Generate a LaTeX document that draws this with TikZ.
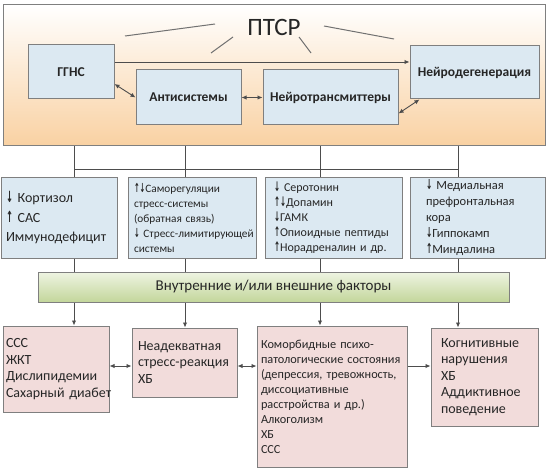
\documentclass[tikz,border=0pt]{standalone}
\usepackage{fontspec}
\setmainfont{Carlito}
\newfontfamily\arrowfont{DejaVu Sans}
\usetikzlibrary{arrows.meta}
\definecolor{ptsrorange}{HTML}{F9D1A2}
\definecolor{boxblue}{HTML}{DCE9F2}
\definecolor{boxpink}{HTML}{F2DCDB}
\definecolor{greentop}{HTML}{EEF4E2}
\definecolor{greenbot}{HTML}{C3D69B}
\definecolor{edgegray}{HTML}{7F7F7F}
\definecolor{linegray}{HTML}{4D4D4D}
\newcommand{\dn}{{\arrowfont\bfseries\scalebox{0.6}[1.1]{↓}}}
\newcommand{\up}{{\arrowfont\bfseries\scalebox{0.6}[1.1]{↑}}}
\hyphenpenalty=10000
\exhyphenpenalty=10000
\begin{document}
\begin{tikzpicture}[x=1pt,y=-1pt,
    >={Latex[length=5pt,width=4.5pt]},
    every node/.style={text=black!85},
    box/.style={draw=edgegray, line width=1pt, inner sep=0pt, align=left},
    bluebox/.style={box, fill=boxblue},
    pinkbox/.style={box, fill=boxpink},
    link/.style={draw=linegray, line width=0.9pt},
    ray/.style={draw=linegray!80, line width=1pt},
    rowone/.style={font=\fontsize{13.5}{15}\selectfont\bfseries},
    big/.style={font=\fontsize{14}{16.5}\selectfont},
    small/.style={font=\fontsize{11.3}{15}\selectfont}]
    \useasboundingbox (0,0) rectangle (556,470);
    \node[draw=edgegray, line width=1pt, top color=white, middle color=ptsrorange!85, bottom color=ptsrorange, minimum width=542, minimum height=141] (P) at (274,75.5) {};
    \node[font=\fontsize{25}{30}\selectfont] (title) at (274,27) {ПТСР};
    \draw[ray] (125,36) -- (215,24);
    \draw[ray] (233,37) -- (211,53);
    \draw[ray] (324,26) -- (394,39);
    \draw[ray] (299,37) -- (311,53);
    \node[bluebox, rowone, minimum width=86, minimum height=54] (G) at (71,72) {ГГНС};
    \node[bluebox, rowone, minimum width=105, minimum height=55] (A) at (188.5,97.5) {Антисистемы};
    \node[bluebox, rowone, minimum width=135, minimum height=55] (T) at (330.5,97.5) {Нейротрансмиттеры};
    \node[bluebox, rowone, minimum width=129, minimum height=53] (N) at (474.5,72.5) {Нейродегенерация};
    \draw[link,->] ([yshift=10pt]G.east) -- ([yshift=10pt]G.east -| N.west);
    \draw[link,<->] ([yshift=-12pt]G.east) -- (A.west);
    \draw[link,<->] (A) -- (T);
    \draw[link,<->] ([yshift=-16pt]T.east) -- ([xshift=10pt]N.south west);
    \node[bluebox, font=\fontsize{14}{19.5}\selectfont, inner xsep=5, text width=106, minimum height=80] (M1) at (59,218)
    {\dn~Кортизол\\ \up~САС\\ Иммунодефицит};
    \node[bluebox, small, inner xsep=6, text width=116, minimum height=80] (M2) at (192,218)
    {\up\dn Саморегуляции\\ стресс-системы\\ (обратная связь)\\ \dn~Стресс-лимитирующей\\ системы};
    \node[bluebox, font=\fontsize{12}{15}\selectfont, inner xsep=9, text width=119, minimum height=80] (M3) at (333.5,218)
    {\dn~Серотонин\\ \up\dn Допамин\\ \dn ГАМК\\ \up Опиоидные пептиды\\ \up Норадреналин и др.};
    \node[bluebox, font=\fontsize{12.5}{16}\selectfont, inner xsep=16, text width=103, minimum height=80] (M4) at (477.5,218)
    {\dn~Медиальная\\ префронтальная\\ кора\\ \dn Гиппокамп\\ \up Миндалина};
    \node[draw=edgegray, line width=1pt, top color=greentop, bottom color=greenbot, minimum width=471, minimum height=30, font=\fontsize{15}{17}\selectfont] (F) at (273.5,287) {Внутренние и/или внешние факторы};
    \node[pinkbox, big, inner xsep=3, text width=100, minimum height=86] (R1) at (56,369)
    {ССС\\ ЖКТ\\ Дислипидемии\\ Сахарный~диабет};
    \node[pinkbox, big, inner xsep=6, text width=93, minimum height=69] (R2) at (184.5,362.5)
    {Неадекватная\\ стресс-реакция\\ ХБ};
    \node[pinkbox, font=\fontsize{12.3}{15}\selectfont, inner xsep=4, text width=142, minimum height=141] (R3) at (332,396.5)
    {Коморбидные психо-\\ патологические состояния\\ (депрессия, тревожность,\\ диссоциативные\\ расстройства и др.)\\ Алкоголизм\\ ХБ\\ ССС};
    \node[pinkbox, big, inner xsep=10, text width=87, minimum height=98] (R4) at (484.5,377)
    {Когнитивные\\ нарушения\\ ХБ\\ Аддиктивное\\ поведение};
    \foreach \i/\x in {1/74,2/185,3/320,4/458}
        \coordinate (B\i) at (\x,169);
    \draw[link] (B1) -- (B4);
    \foreach \i in {1,...,4} {
        \draw[link] (P.south -| B\i) -- (M\i.north -| B\i);
        \draw[link] (M\i.south -| B\i) -- (F.north -| B\i);
        \draw[link,->] (F.south -| B\i) -- (R\i.north -| B\i);
    }
    \coordinate (H) at (0,366);
    \draw[link,<->] (R1.east |- H) -- (R2.west |- H);
    \draw[link,<->] (R2.east |- H) -- (R3.west |- H);
    \draw[link,->] (R3.east |- H) -- (R4.west |- H);
\end{tikzpicture}
\end{document}
